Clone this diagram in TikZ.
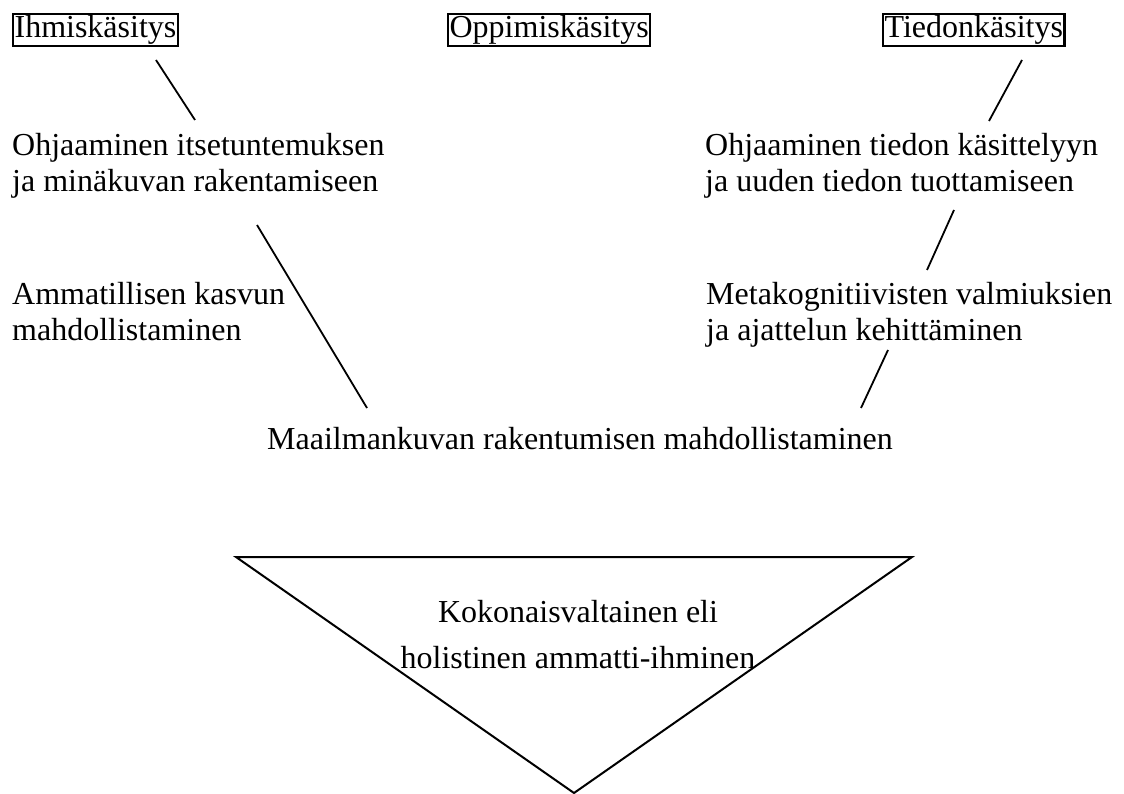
\documentclass[tikz,border=0pt]{standalone}
\usepackage{fontspec}
\setmainfont{Liberation Serif}
\begin{document}
\begin{tikzpicture}[x=1pt,y=-1pt,
  lbl/.style={anchor=base west,inner sep=0pt,font=\fontsize{32}{36}\selectfont},
  clbl/.style={anchor=base,inner sep=0pt,font=\fontsize{32}{36}\selectfont},
  boxed/.style={draw,line width=2.2pt,anchor=south west,inner xsep=1.5pt,inner ysep=1.5pt,font=\fontsize{32}{36}\selectfont},
  conn/.style={line width=1.8pt}]
\useasboundingbox (0,0) rectangle (1124,794);
% top boxes
\node[boxed] (ihm) at (12,47) {Ihmiskäsitys};
\node[boxed] (opp) at (447,47) {Oppimiskäsitys};
\node[boxed] (tie) at (882,47) {Tiedonkäsitys};
% left column
\node[lbl] (oh1) at (12,156) {Ohjaaminen itsetuntemuksen};
\node[lbl] (oh1b) at (12,192) {ja minäkuvan rakentamiseen};
\node[lbl] (amm) at (12,305) {Ammatillisen kasvun};
\node[lbl] (ammb) at (12,340) {mahdollistaminen};
% right column
\node[lbl] (oh2) at (705,156) {Ohjaaminen tiedon käsittelyyn};
\node[lbl] (oh2b) at (705,192) {ja uuden tiedon tuottamiseen};
\node[lbl] (met) at (706,305) {Metakognitiivisten valmiuksien};
\node[lbl] (metb) at (706,340) {ja ajattelun kehittäminen};
% bottom
\node[lbl] (maa) at (267,449) {Maailmankuvan rakentumisen mahdollistaminen};
% connectors
\coordinate (l1a) at (156,60);  \coordinate (l1b) at (195,120);
\coordinate (l2a) at (257,225); \coordinate (l2b) at (367,408);
\coordinate (r1a) at (1022,60); \coordinate (r1b) at (989,121);
\coordinate (r2a) at (954,210); \coordinate (r2b) at (927,270);
\coordinate (r3a) at (888,350); \coordinate (r3b) at (861,408);
\draw[conn] (l1a) -- (l1b);
\draw[conn] (l2a) -- (l2b);
\draw[conn] (r1a) -- (r1b);
\draw[conn] (r2a) -- (r2b);
\draw[conn] (r3a) -- (r3b);
% triangle
\coordinate (t1) at (236,557);
\coordinate (t2) at (912,557);
\coordinate (t3) at (574,793);
\draw[line width=2pt,line join=miter] (t1) -- (t2) -- (t3) -- cycle;
\node[clbl] (kok) at (578,622) {Kokonaisvaltainen eli};
\node[clbl] (hol) at (578,668) {holistinen ammatti-ihminen};
\end{tikzpicture}
\end{document}
